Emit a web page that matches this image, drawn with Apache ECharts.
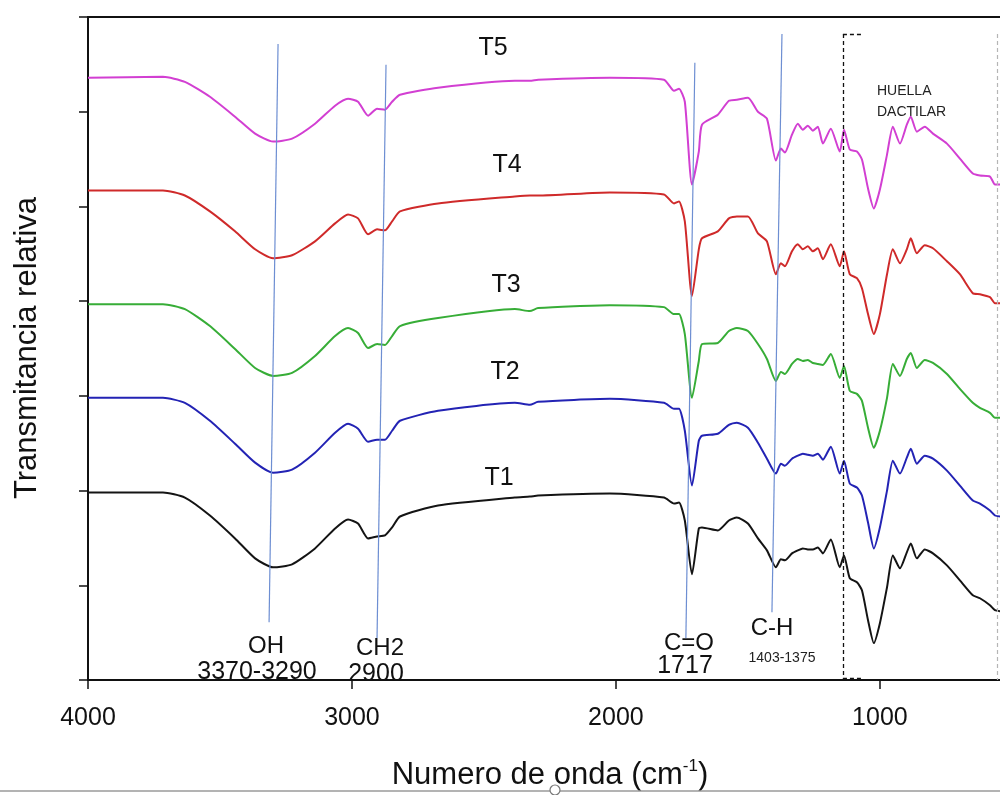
<!DOCTYPE html>
<html>
<head>
<meta charset="utf-8">
<title>Espectros FTIR</title>
<script src="https://cdn.jsdelivr.net/npm/echarts@6/dist/echarts.min.js"></script>
<style>
  html, body { margin: 0; padding: 0; background: #fff; }
  #chart { width: 1000px; height: 795px; }
</style>
</head>
<body>
<div id="chart"></div>
<script>
// numero de onda (cm-1)
const wavenumber = [4000, 3716, 3633, 3538, 3443, 3367, 3299, 3227, 3140, 3064, 3015, 2977, 2939, 2905, 2875, 2848, 2818, 2674, 2383, 2326, 2295, 2023, 1818, 1780, 1761, 1739, 1712, 1686, 1674, 1614, 1572, 1542, 1500, 1462, 1428, 1394, 1375, 1360, 1333, 1311, 1292, 1273, 1254, 1235, 1216, 1186, 1152, 1136, 1114, 1087, 1068, 1045, 1023, 1000, 973, 951, 924, 898, 883, 860, 830, 799, 746, 697, 648, 621, 583, 564, 545]

// transmitancia relativa (unidades arbitrarias, espectros desplazados)
const t5 = [604, 605, 600, 585, 565, 548, 540, 543, 558, 576, 583, 580, 566, 573, 572, 580, 587, 594, 601, 601, 602, 604, 602, 591, 593, 580, 497, 530, 557, 567, 581, 582, 584, 570, 563, 521, 533, 529, 547, 558, 552, 556, 551, 555, 538, 553, 530, 552, 532, 530, 522, 493, 473, 492, 527, 555, 538, 557, 565, 550, 555, 548, 538, 523, 508, 506, 505, 497, 497]
const t4 = [491, 491, 486, 470, 450, 432, 423, 426, 440, 458, 467, 463, 447, 452, 451, 460, 470, 478, 485, 486, 486, 489, 487, 478, 480, 460, 385, 432, 443, 450, 463, 465, 465, 448, 440, 407, 418, 415, 430, 437, 432, 435, 430, 433, 422, 437, 415, 430, 407, 403, 393, 367, 347, 367, 407, 432, 418, 432, 443, 428, 436, 433, 420, 407, 388, 387, 384, 378, 378]
const t3 = [377, 377, 372, 355, 332, 313, 305, 308, 325, 345, 353, 348, 333, 337, 336, 345, 355, 363, 372, 370, 373, 376, 374, 367, 367, 347, 283, 320, 337, 338, 350, 353, 350, 337, 322, 300, 309, 307, 317, 322, 320, 321, 318, 317, 316, 327, 303, 315, 290, 287, 280, 253, 233, 250, 283, 317, 305, 322, 328, 313, 321, 318, 307, 292, 278, 273, 268, 263, 263]
const t2 = [283, 283, 278, 260, 237, 218, 208, 211, 228, 248, 257, 252, 239, 241, 241, 250, 260, 270, 278, 276, 279, 282, 278, 272, 272, 250, 195, 240, 245, 247, 256, 258, 253, 238, 222, 207, 217, 215, 222, 225, 227, 226, 225, 227, 221, 234, 207, 220, 197, 193, 185, 158, 132, 153, 190, 220, 207, 223, 232, 217, 225, 222, 210, 195, 180, 177, 170, 165, 164]
const t1 = [188, 188, 183, 165, 142, 122, 113, 116, 132, 152, 161, 157, 142, 144, 145, 153, 164, 175, 183, 184, 185, 187, 183, 177, 178, 160, 106, 152, 153, 150, 160, 163, 157, 142, 130, 113, 121, 120, 127, 130, 132, 131, 131, 133, 127, 141, 113, 125, 102, 98, 90, 60, 37, 57, 93, 125, 112, 128, 137, 122, 131, 127, 115, 100, 85, 82, 75, 70, 69]

const xTicks = [1000, 2000, 3000, 4000]

// lineas de bandas: [onda arriba, valor arriba, onda abajo, valor abajo]
const bandLines = [
  [3280, 638, 3314, 58],
  [2871, 617, 2905, 42],
  [1701, 619, 1735, 42],
  [1371, 648, 1409, 68]
]
// recuadro huella dactilar (punteado)
const boxLines = [
  [1140, 648, 1140, 0],
  [1140, 648, 1068, 648],
  [1140, 2, 1068, 2]
]
const boxRight = [557, 648, 557, 0]

const chart = echarts.init(document.getElementById('chart'), null, { renderer: 'canvas' })

const font = "'Liberation Sans', Arial, sans-serif"

function mkSeries(name, values, color) {
  return {
    name: name,
    type: 'line',
    data: wavenumber.map((w, i) => [w, values[i]]),
    showSymbol: false,
    smooth: 0.2,
    lineStyle: { color: color, width: 2 },
    z: 3
  }
}

function seg(s, style) {
  return [{ coord: [s[0], s[1]], lineStyle: style }, { coord: [s[2], s[3]] }]
}

const dashed = { color: '#111', width: 1.3, type: [4, 3] }

const option = {
  animation: false,
  backgroundColor: '#fff',
  grid: {
    left: 88,
    top: 17,
    right: 0,
    bottom: 115
  },
  xAxis: [
    {
      type: 'value',
      min: 545,
      max: 4000,
      inverse: true,
      axisLine: { show: true, lineStyle: { color: '#111', width: 2 } },
      axisTick: { show: true, inside: false, length: 9, customValues: xTicks, lineStyle: { color: '#111', width: 1.5 } },
      axisLabel: {
        show: true, customValues: xTicks, margin: 26, fontSize: 25, fontFamily: font, color: '#111',
        formatter: v => String(v)
      },
      splitLine: { show: false }
    },
    {
      // borde superior
      type: 'value',
      position: 'top',
      min: 545,
      max: 4000,
      inverse: true,
      axisLine: { show: true, onZero: false, lineStyle: { color: '#111', width: 2 } },
      axisTick: { show: false },
      axisLabel: { show: false },
      splitLine: { show: false }
    }
  ],
  yAxis: {
    type: 'value',
    min: 0,
    max: 665,
    interval: 95,
    axisLine: { show: true, lineStyle: { color: '#111', width: 2 } },
    axisTick: { show: true, inside: false, length: 9, lineStyle: { color: '#111', width: 1.5 } },
    axisLabel: { show: false },
    splitLine: { show: false }
  },
  series: [
    {
      name: 'bandas',
      type: 'line',
      data: [],
      z: 2,
      markLine: {
        silent: true,
        symbol: ['none', 'none'],
        label: { show: false },
        lineStyle: { color: '#6d8ed2', width: 1.2, type: 'solid' },
        data: bandLines.map(b => seg(b, { color: '#6d8ed2', width: 1.2, type: 'solid' }))
          .concat(boxLines.map(b => seg(b, dashed)))
          .concat([seg(boxRight, { color: '#b5b5b5', width: 1.2, type: [4, 3] })])
      }
    },
    mkSeries('T1', t1, '#141414'),
    mkSeries('T2', t2, '#2323b4'),
    mkSeries('T3', t3, '#37ad37'),
    mkSeries('T4', t4, '#cf2a2a'),
    mkSeries('T5', t5, '#d23fd2')
  ],
  graphic: [
    // etiquetas de espectros
    { type: 'text', x: 493, y: 48, style: { text: 'T5', font: '25px ' + font, fill: '#111', align: 'center', verticalAlign: 'middle' } },
    { type: 'text', x: 507, y: 165, style: { text: 'T4', font: '25px ' + font, fill: '#111', align: 'center', verticalAlign: 'middle' } },
    { type: 'text', x: 506, y: 285, style: { text: 'T3', font: '25px ' + font, fill: '#111', align: 'center', verticalAlign: 'middle' } },
    { type: 'text', x: 505, y: 372, style: { text: 'T2', font: '25px ' + font, fill: '#111', align: 'center', verticalAlign: 'middle' } },
    { type: 'text', x: 499, y: 478, style: { text: 'T1', font: '25px ' + font, fill: '#111', align: 'center', verticalAlign: 'middle' } },
    // bandas
    { type: 'text', x: 266, y: 646, style: { text: 'OH', font: '24px ' + font, fill: '#111', align: 'center', verticalAlign: 'middle' } },
    { type: 'text', x: 257, y: 672, style: { text: '3370-3290', font: '25px ' + font, fill: '#111', align: 'center', verticalAlign: 'middle' } },
    { type: 'text', x: 380, y: 648, style: { text: 'CH2', font: '24px ' + font, fill: '#111', align: 'center', verticalAlign: 'middle' } },
    { type: 'text', x: 376, y: 674, style: { text: '2900', font: '25px ' + font, fill: '#111', align: 'center', verticalAlign: 'middle' } },
    { type: 'text', x: 689, y: 643, style: { text: 'C=O', font: '24px ' + font, fill: '#111', align: 'center', verticalAlign: 'middle' } },
    { type: 'text', x: 685, y: 666, style: { text: '1717', font: '25px ' + font, fill: '#111', align: 'center', verticalAlign: 'middle' } },
    { type: 'text', x: 772, y: 628, style: { text: 'C-H', font: '24px ' + font, fill: '#111', align: 'center', verticalAlign: 'middle' } },
    { type: 'text', x: 782, y: 658, style: { text: '1403-1375', font: '14px ' + font, fill: '#222', align: 'center', verticalAlign: 'middle' } },
    { type: 'text', x: 877, y: 91, style: { text: 'HUELLA', font: '14px ' + font, fill: '#222', align: 'left', verticalAlign: 'middle' } },
    { type: 'text', x: 877, y: 112, style: { text: 'DACTILAR', font: '14px ' + font, fill: '#222', align: 'left', verticalAlign: 'middle' } },
    // titulos de ejes
    {
      type: 'text', x: 27, y: 348, rotation: Math.PI / 2,
      style: { text: 'Transmitancia relativa', font: '31px ' + font, fill: '#111', align: 'center', verticalAlign: 'middle' }
    },
    {
      type: 'text', x: 550, y: 775,
      style: {
        text: '{a|Numero de onda (cm}{b|-1}{a|)}',
        align: 'center', verticalAlign: 'middle',
        rich: {
          a: { fontSize: 31, fontFamily: font, fill: '#111', lineHeight: 35 },
          b: { fontSize: 17, fontFamily: font, fill: '#111', verticalAlign: 'top', lineHeight: 17 }
        }
      }
    },
    // linea inferior de la captura
    { type: 'line', shape: { x1: 0, y1: 791, x2: 1000, y2: 791 }, style: { stroke: '#9a9a9a', lineWidth: 1.5 } },
    { type: 'circle', shape: { cx: 555, cy: 790, r: 5 }, style: { stroke: '#777', fill: '#fff', lineWidth: 1.2 } }
  ]
}

chart.setOption(option)
</script>
</body>
</html>
